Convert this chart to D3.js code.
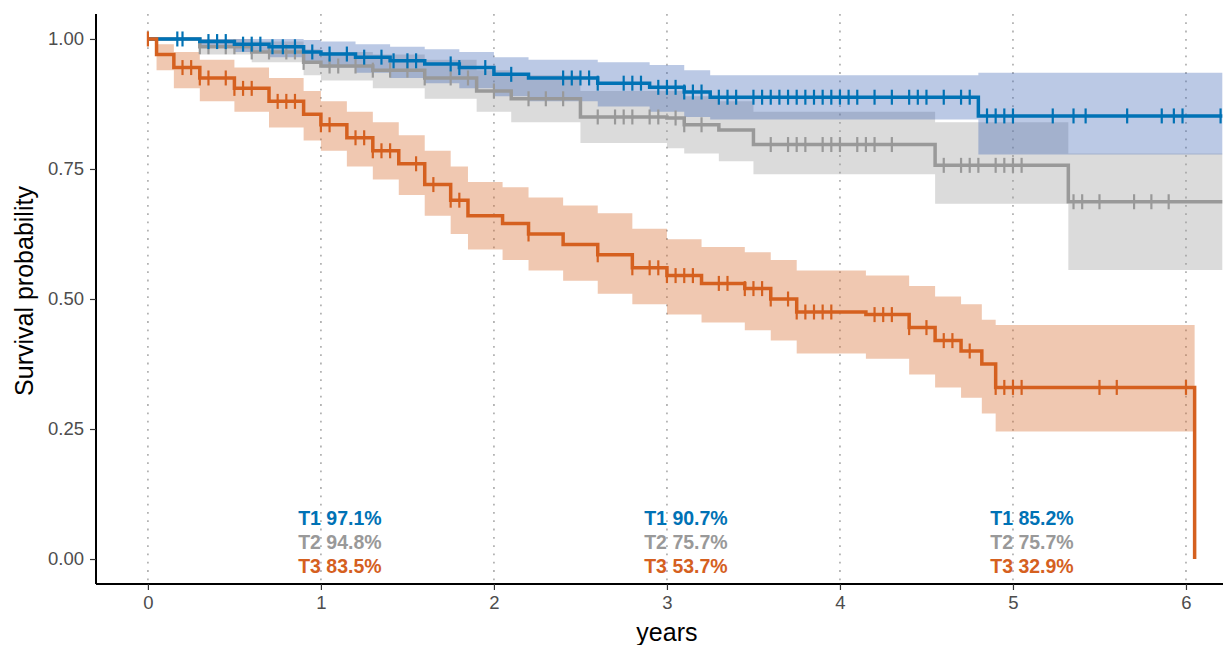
<!DOCTYPE html>
<html><head><meta charset="utf-8">
<script src="https://cdn.jsdelivr.net/npm/d3@7"></script>
<style>body{margin:0;background:#fff}svg{font-family:"Liberation Sans",Arial,sans-serif}</style>
</head><body><svg id="chart" width="1223" height="645"></svg>
<script>
const xTicks = [0, 1, 2, 3, 4, 5, 6];
const yTicks = [0, 0.25, 0.5, 0.75, 1];

const t1Time = [0, 0.3, 0.5, 0.7, 0.9, 1.0, 1.2, 1.4, 1.6, 1.8, 2.0, 2.2, 2.6, 2.9, 3.1, 3.25, 4.8, 6.21];
const t1Surv = [1, 0.995, 0.99, 0.985, 0.975, 0.971, 0.965, 0.958, 0.952, 0.945, 0.932, 0.925, 0.915, 0.907, 0.898, 0.888, 0.852, 0.852];
const t1Lo = [1, 0.985, 0.975, 0.965, 0.952, 0.945, 0.935, 0.925, 0.915, 0.905, 0.89, 0.88, 0.87, 0.86, 0.85, 0.845, 0.778, 0.778];
const t1Hi = [1, 1, 1, 1, 0.998, 0.995, 0.99, 0.985, 0.98, 0.975, 0.965, 0.96, 0.955, 0.95, 0.94, 0.93, 0.935, 0.935];
const t1Cens = [0.17, 0.2, 0.35, 0.4, 0.45, 0.55, 0.6, 0.65, 0.72, 0.78, 0.85, 0.95, 1.05, 1.15, 1.25, 1.35, 1.42, 1.5, 1.55, 1.75, 1.8, 1.95, 2.1, 2.4, 2.45, 2.5, 2.55, 2.6, 2.75, 2.8, 2.85, 2.95, 3.0, 3.05, 3.1, 3.15, 3.2, 3.3, 3.35, 3.4, 3.5, 3.55, 3.6, 3.65, 3.7, 3.75, 3.8, 3.85, 3.9, 3.95, 4.0, 4.05, 4.1, 4.2, 4.3, 4.4, 4.45, 4.5, 4.6, 4.7, 4.75, 4.85, 4.9, 4.95, 5.0, 5.23, 5.35, 5.42, 5.66, 5.86, 5.93, 5.98, 6.2];

const t2Time = [0, 0.3, 0.6, 0.9, 1.0, 1.3, 1.6, 1.9, 2.1, 2.5, 3.0, 3.1, 3.3, 3.5, 4.55, 5.32, 6.21];
const t2Surv = [1, 0.985, 0.975, 0.955, 0.948, 0.94, 0.925, 0.9, 0.885, 0.85, 0.848, 0.835, 0.825, 0.797, 0.757, 0.687, 0.687];
const t2Lo = [1, 0.97, 0.955, 0.93, 0.92, 0.905, 0.885, 0.86, 0.84, 0.8, 0.79, 0.78, 0.765, 0.74, 0.683, 0.556, 0.556];
const t2Hi = [1, 1, 0.995, 0.98, 0.975, 0.97, 0.96, 0.94, 0.93, 0.9, 0.9, 0.89, 0.88, 0.86, 0.84, 0.78, 0.78];
const t2Cens = [0.3, 0.35, 0.45, 0.5, 0.6, 0.7, 0.8, 0.85, 0.9, 1.05, 1.1, 1.2, 1.3, 1.4, 1.5, 1.6, 1.75, 1.85, 2.0, 2.2, 2.3, 2.4, 2.6, 2.7, 2.75, 2.8, 2.9, 2.95, 3.05, 3.1, 3.2, 3.6, 3.7, 3.75, 3.8, 3.9, 3.95, 4.0, 4.1, 4.15, 4.2, 4.3, 4.6, 4.7, 4.75, 4.8, 4.9, 4.95, 5.0, 5.05, 5.35, 5.4, 5.5, 5.7, 5.8, 5.9];

const t3Time = [0, 0.05, 0.15, 0.3, 0.5, 0.7, 0.9, 1.0, 1.15, 1.3, 1.45, 1.6, 1.75, 1.85, 2.05, 2.2, 2.4, 2.6, 2.8, 3.0, 3.2, 3.45, 3.6, 3.75, 4.15, 4.4, 4.55, 4.7, 4.82, 4.9, 6.05];
const t3Surv = [1, 0.97, 0.945, 0.925, 0.905, 0.88, 0.855, 0.835, 0.81, 0.785, 0.76, 0.72, 0.69, 0.66, 0.645, 0.625, 0.605, 0.585, 0.56, 0.545, 0.53, 0.52, 0.5, 0.475, 0.47, 0.445, 0.42, 0.4, 0.375, 0.33, 0];
const t3Lo = [1, 0.94, 0.905, 0.88, 0.86, 0.83, 0.805, 0.785, 0.755, 0.73, 0.7, 0.66, 0.625, 0.595, 0.575, 0.555, 0.535, 0.51, 0.49, 0.47, 0.455, 0.44, 0.42, 0.395, 0.385, 0.355, 0.33, 0.31, 0.28, 0.245, 0.245];
const t3Hi = [1, 0.99, 0.975, 0.96, 0.945, 0.925, 0.9, 0.88, 0.86, 0.84, 0.815, 0.785, 0.755, 0.725, 0.715, 0.695, 0.68, 0.665, 0.635, 0.615, 0.6, 0.59, 0.575, 0.555, 0.545, 0.525, 0.505, 0.49, 0.46, 0.45, 0.45];
const t3Cens = [0, 0.2, 0.25, 0.3, 0.35, 0.45, 0.5, 0.55, 0.6, 0.75, 0.8, 0.85, 1.0, 1.05, 1.2, 1.25, 1.3, 1.35, 1.4, 1.55, 1.65, 1.75, 1.8, 2.2, 2.6, 2.8, 2.9, 2.95, 3.0, 3.05, 3.1, 3.15, 3.3, 3.35, 3.45, 3.5, 3.55, 3.6, 3.7, 3.75, 3.8, 3.85, 3.9, 3.95, 4.2, 4.25, 4.3, 4.4, 4.5, 4.6, 4.65, 4.75, 4.9, 4.95, 5.0, 5.05, 5.5, 5.6, 6.0];

const labelYears = [1, 3, 5];
const labelT1 = ['T1 97.1%', 'T1 90.7%', 'T1 85.2%'];
const labelT2 = ['T2 94.8%', 'T2 75.7%', 'T2 75.7%'];
const labelT3 = ['T3 83.5%', 'T3 53.7%', 'T3 32.9%'];

const groups = [
  { time: t2Time, surv: t2Surv, lo: t2Lo, hi: t2Hi, cens: t2Cens, line: '#999999', fill: '#999999', labels: labelT2 },
  { time: t1Time, surv: t1Surv, lo: t1Lo, hi: t1Hi, cens: t1Cens, line: '#0072B5', fill: '#3B64B5', labels: labelT1 },
  { time: t3Time, surv: t3Surv, lo: t3Lo, hi: t3Hi, cens: t3Cens, line: '#D5601F', fill: '#D5601F', labels: labelT3 },
];

const pL = 96, pR = 1223, pT = 14, pB = 584;
const x = d3.scaleLinear().domain([-0.3, 6.214]).range([pL, pR]);
const y = d3.scaleLinear().domain([-0.048, 1.048]).range([pB, pT]);

const svg = d3.select('#chart');
svg.append('defs').append('clipPath').attr('id', 'clip')
  .append('rect').attr('x', pL).attr('y', pT).attr('width', pR - pL).attr('height', pB - pT);

// dotted guides
svg.append('g').selectAll('line').data(xTicks).join('line')
  .attr('x1', d => x(d)).attr('x2', d => x(d)).attr('y1', pT).attr('y2', pB)
  .attr('stroke', '#b3b3b3').attr('stroke-width', 1.8).attr('stroke-dasharray', '1.8,6.5');

const plot = svg.append('g').attr('clip-path', 'url(#clip)');

const area = d3.area().curve(d3.curveStepAfter)
  .x(d => x(d[0])).y0(d => y(d[1])).y1(d => y(d[2]));
const line = d3.line().curve(d3.curveStepAfter).x(d => x(d[0])).y(d => y(d[1]));

groups.forEach(g => {
  plot.append('path')
    .attr('d', area(g.time.map((t, i) => [t, g.lo[i], g.hi[i]])))
    .attr('fill', g.fill).attr('fill-opacity', 0.35);
});

groups.forEach(g => {
  const pts = g.time.map((t, i) => [t, g.surv[i]]);
  plot.append('path').attr('d', line(pts))
    .attr('fill', 'none').attr('stroke', g.line).attr('stroke-width', 3.5);
  const at = t => g.surv[Math.max(0, d3.bisectRight(g.time, t) - 1)];
  plot.append('g').selectAll('line').data(g.cens).join('line')
    .attr('x1', d => x(d)).attr('x2', d => x(d))
    .attr('y1', d => y(at(d)) - 7.5).attr('y2', d => y(at(d)) + 7.5)
    .attr('stroke', g.line).attr('stroke-width', 2.2);
});

// risk labels
const rows = [groups[1], groups[0], groups[2]];
rows.forEach((g, r) => {
  svg.append('g').selectAll('text').data(labelYears).join('text')
    .attr('x', d => x(d) + 19).attr('y', 518 + r * 24 + 7)
    .attr('text-anchor', 'middle').attr('font-size', 19.5).attr('font-weight', 'bold')
    .attr('fill', g.line).text((d, i) => g.labels[i]);
});

// axes
const xAxis = svg.append('g').attr('transform', `translate(0,${pB})`)
  .call(d3.axisBottom(x).tickValues(xTicks).tickFormat(d3.format('d')).tickSize(6).tickPadding(6));
const yAxis = svg.append('g').attr('transform', `translate(${pL},0)`)
  .call(d3.axisLeft(y).tickValues(yTicks).tickFormat(d3.format('.2f')).tickSize(6).tickPadding(6));
[xAxis, yAxis].forEach(a => {
  a.select('.domain').attr('stroke', '#000').attr('stroke-width', 2);
  a.selectAll('.tick line').attr('stroke', '#333').attr('stroke-width', 1.2);
  a.selectAll('.tick text').attr('fill', '#4d4d4d').attr('font-size', 18.5);
});
xAxis.select('.domain').attr('d', `M${pL},0H${pR}`);
yAxis.select('.domain').attr('d', `M0,${pB}V${pT}`);

svg.append('text').attr('x', x(3)).attr('y', 641).attr('text-anchor', 'middle')
  .attr('font-size', 25).attr('fill', '#000').text('years');
svg.append('text').attr('transform', `translate(33,${(pT + pB) / 2 - 8}) rotate(-90)`)
  .attr('text-anchor', 'middle').attr('font-size', 25).attr('fill', '#000').text('Survival probability');
</script></body></html>
